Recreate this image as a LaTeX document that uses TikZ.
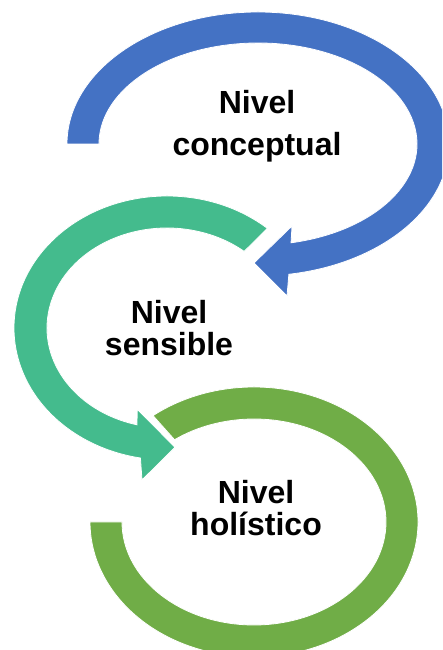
\documentclass[tikz,border=0pt]{standalone}
\usepackage{fontspec}
\setmainfont{Liberation Sans}
\usepackage{tikz}
\definecolor{azul}{HTML}{4472C4}
\definecolor{turquesa}{HTML}{44BB8D}
\definecolor{verde}{HTML}{70AD47}
\tikzstyle{flecha} = [draw=white, line width=0.8pt, line join=miter]
\tikzstyle{nivel} = [align=center, inner sep=0pt,
                 font=\bfseries\fontsize{32}{32}\selectfont]

\begin{document}
\begin{tikzpicture}[x=1pt,y=1pt]

\useasboundingbox (0,0) rectangle (442,650);
\clip (0,0) rectangle (442,650);

    	%centros
\coordinate (cb) at (258,506);
\coordinate (ct) at (167,322);
\coordinate (cv) at (254,128);

    	%puntas
\coordinate (b1) at (287,354);
\coordinate (bt) at (254,387);
\coordinate (b2) at (292,424);
\coordinate (t1) at (142,170);
\coordinate (tt) at (175,202.7);
\coordinate (t2) at (137.3,240.7);

\fill [verde, flecha] ([shift={(cv)}]128:164 and 135)
	arc [start angle=128, end angle=-180, x radius=164, y radius=135]
	-- ([shift={(cv)}]180:132 and 103)
	arc [start angle=-180, end angle=127, x radius=132, y radius=103] -- cycle;

\fill [turquesa, flecha] ([shift={(ct)}]49:153 and 132)
	arc [start angle=49, end angle=260, x radius=153, y radius=132]
	-- (t1) -- (tt) -- (t2)
	-- ([shift={(ct)}]255.5:120 and 100)
	arc [start angle=255.5, end angle=50, x radius=120, y radius=100] -- cycle;

\fill [azul, flecha] ([shift={(cb)}]180:191 and 132)
	arc [start angle=180, end angle=-80.7, x radius=191, y radius=132]
	-- (b1) -- (bt) -- (b2)
	-- ([shift={(cb)}]-78:159 and 101)
	arc [start angle=-78, end angle=180, x radius=159, y radius=101] -- cycle;

\node [nivel] (conceptual) at (257,524) {Nivel\\[10pt]conceptual};
\node [nivel] (sensible) at (169,322.3) {Nivel\\sensible};
\node [nivel] (holistico) at (256,142.3) {Nivel\\holístico};

\end{tikzpicture}
\end{document}
